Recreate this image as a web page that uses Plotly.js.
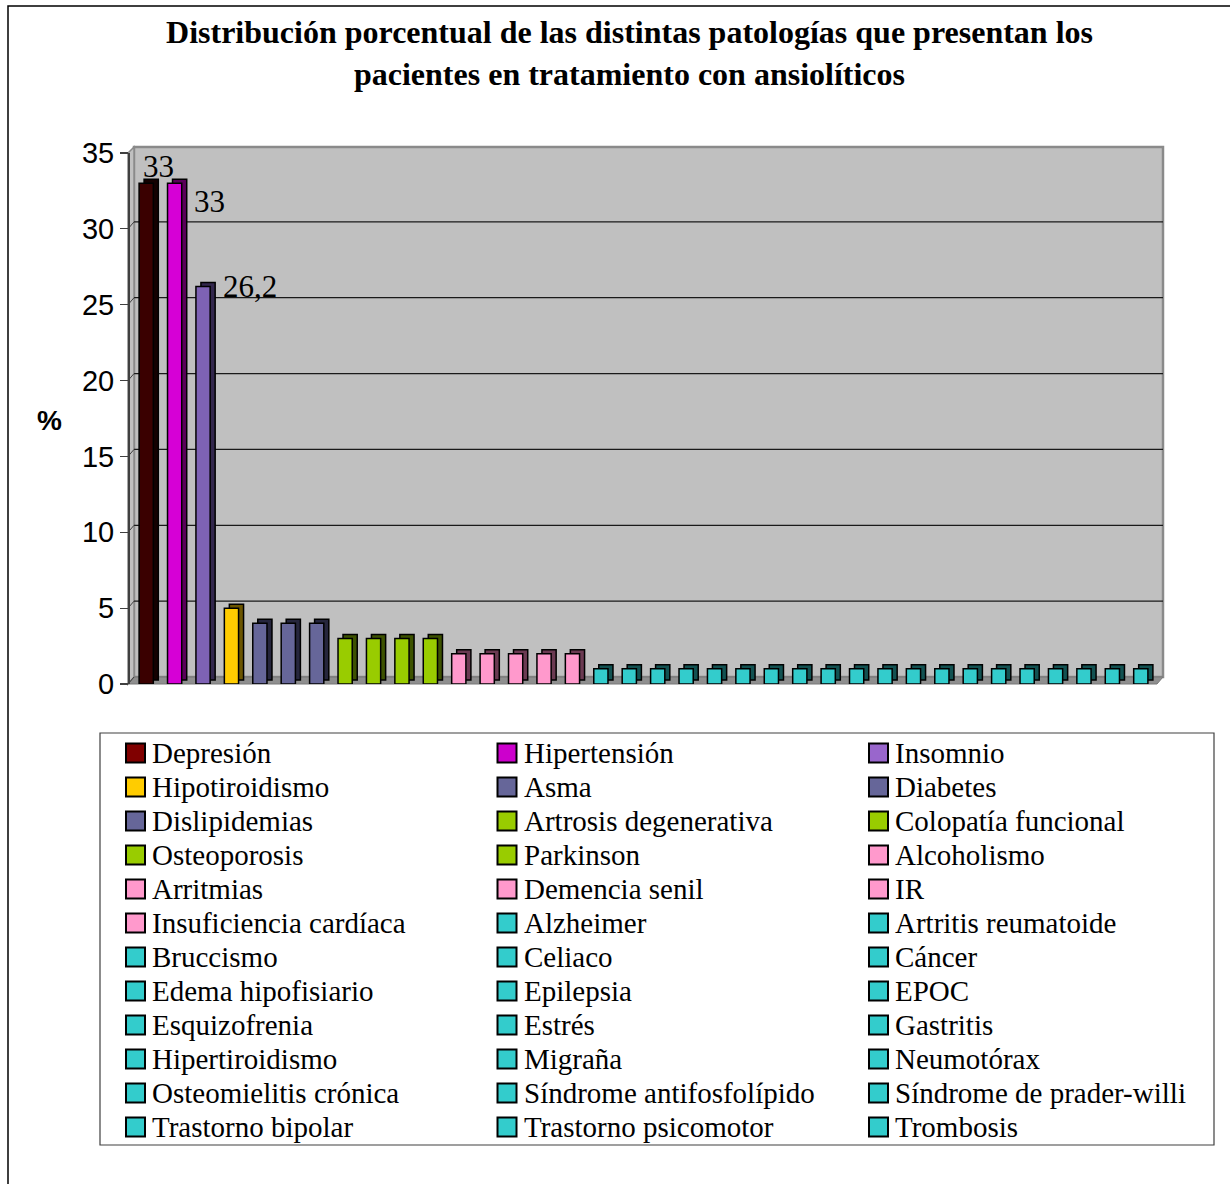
<!DOCTYPE html>
<html>
<head>
<meta charset="utf-8">
<script src="https://cdn.plot.ly/plotly-3.0.1.min.js"></script>
<style>
  html, body { margin: 0; padding: 0; background: #ffffff; }
  #chart { width: 1230px; height: 1184px; }
</style>
</head>
<body>
<div id="chart"></div>
<script>
// Patologías de los pacientes en tratamiento con ansiolíticos (%)
const categories = [
  'Depresión', 'Hipertensión', 'Insomnio',
  'Hipotiroidismo', 'Asma', 'Diabetes',
  'Dislipidemias', 'Artrosis degenerativa', 'Colopatía funcional',
  'Osteoporosis', 'Parkinson', 'Alcoholismo',
  'Arritmias', 'Demencia senil', 'IR',
  'Insuficiencia cardíaca', 'Alzheimer', 'Artritis reumatoide',
  'Bruccismo', 'Celiaco', 'Cáncer',
  'Edema hipofisiario', 'Epilepsia', 'EPOC',
  'Esquizofrenia', 'Estrés', 'Gastritis',
  'Hipertiroidismo', 'Migraña', 'Neumotórax',
  'Osteomielitis crónica', 'Síndrome antifosfolípido', 'Síndrome de prader-willi',
  'Trastorno bipolar', 'Trastorno psicomotor', 'Trombosis'
];

const values = [
  33, 33, 26.2,
  5, 4, 4,
  4, 3, 3,
  3, 3, 2,
  2, 2, 2,
  2, 1, 1,
  1, 1, 1,
  1, 1, 1,
  1, 1, 1,
  1, 1, 1,
  1, 1, 1,
  1, 1, 1
];

// Categories whose value is printed next to the column
const labelledCategories = ['Depresión', 'Hipertensión', 'Insomnio'];

const yTicks = [0, 5, 10, 15, 20, 25, 30, 35];

// Colour group of every category
const colorGroup = [
  'dep', 'hta', 'ins',
  'tir', 'azul', 'azul',
  'azul', 'verde', 'verde',
  'verde', 'verde', 'rosa',
  'rosa', 'rosa', 'rosa',
  'rosa', 'cian', 'cian',
  'cian', 'cian', 'cian',
  'cian', 'cian', 'cian',
  'cian', 'cian', 'cian',
  'cian', 'cian', 'cian',
  'cian', 'cian', 'cian',
  'cian', 'cian', 'cian'
];

const palette = {
  dep:   { face: '#3a0000', side: '#140000', key: '#800000' },
  hta:   { face: '#d600d6', side: '#5a005a', key: '#cc00cc' },
  ins:   { face: '#7e62b4', side: '#33274d', key: '#9966cc' },
  tir:   { face: '#ffcc00', side: '#6b5500', key: '#ffcc00' },
  azul:  { face: '#666699', side: '#26263d', key: '#666699' },
  verde: { face: '#99cc00', side: '#3d5200', key: '#99cc00' },
  rosa:  { face: '#ff99cc', side: '#6b3a52', key: '#ff99cc' },
  cian:  { face: '#33cccc', side: '#125252', key: '#33cccc' }
};

// ---- page geometry (pixels) ----
const W = 1230, H = 1184;
const plotL = 128, plotR = 1163, plotT = 147, plotB = 684;
const pw = plotR - plotL, ph = plotB - plotT;
const X = px => (px - plotL) / pw;       // pixel -> paper x
const Y = py => (plotB - py) / ph;       // pixel -> paper y

const wallDepth = { x: 6, y: 7 };        // back wall offset of the 3D frame
const barDepth = { x: 5, y: 4 };         // visible side / top of each column
const axisLeft = 132, axisRight = 1155, valueTop = 153;

const catPx = (axisRight - axisLeft) / categories.length;
const unitPx = (plotB - valueTop) / (yTicks[yTicks.length - 1] - yTicks[0]);
const barWidth = 0.5;

const faceColors = colorGroup.map(g => palette[g].face);
const sideColors = colorGroup.map(g => palette[g].side);

// Depth of each column: same values, shifted back and up
const sideTrace = {
  type: 'bar',
  x: categories,
  y: values,
  base: values.map(() => barDepth.y / unitPx),
  width: barWidth,
  offset: -barWidth / 2 + barDepth.x / catPx,
  marker: { color: sideColors, line: { color: '#000000', width: 1.5 } },
  hoverinfo: 'skip',
  showlegend: false
};

const faceTrace = {
  type: 'bar',
  x: categories,
  y: values,
  width: barWidth,
  offset: -barWidth / 2,
  marker: { color: faceColors, line: { color: '#000000', width: 1.5 } },
  hovertemplate: '%{x}: %{y}<extra></extra>',
  showlegend: false
};

const shapes = [];

// Outer chart frame
shapes.push({ type: 'rect', xref: 'paper', yref: 'paper', layer: 'below',
  x0: X(8), x1: X(1260), y0: Y(6), y1: Y(1260),
  line: { color: '#000000', width: 1.5 }, fillcolor: 'rgba(0,0,0,0)' });

// Back wall
shapes.push({ type: 'rect', xref: 'paper', yref: 'paper', layer: 'below',
  x0: X(plotL + wallDepth.x), x1: X(plotR),
  y0: Y(plotB - wallDepth.y), y1: Y(plotT),
  fillcolor: '#c0c0c0', line: { color: '#8a8a8a', width: 2.5 } });

// Left side wall
shapes.push({ type: 'path', xref: 'paper', yref: 'paper', layer: 'below',
  path: `M ${X(plotL)},${Y(valueTop)} L ${X(plotL + wallDepth.x)},${Y(plotT)} ` +
        `L ${X(plotL + wallDepth.x)},${Y(plotB - wallDepth.y)} L ${X(plotL)},${Y(plotB)} Z`,
  fillcolor: '#c0c0c0', line: { color: '#8a8a8a', width: 1.5 } });

// Floor
shapes.push({ type: 'path', xref: 'paper', yref: 'paper', layer: 'below',
  path: `M ${X(plotL)},${Y(plotB)} L ${X(plotL + wallDepth.x)},${Y(plotB - wallDepth.y)} ` +
        `L ${X(plotR)},${Y(plotB - wallDepth.y)} L ${X(plotR - wallDepth.x)},${Y(plotB)} Z`,
  fillcolor: '#8f8f8f', line: { color: '#777777', width: 1 } });

// Gridlines on the back wall and their links to the axis ticks
yTicks.slice(1, -1).forEach(v => {
  shapes.push({ type: 'line', xref: 'paper', yref: 'y', layer: 'below',
    x0: X(plotL + wallDepth.x), x1: X(plotR),
    ysizemode: 'pixel', yanchor: v, y0: wallDepth.y, y1: wallDepth.y,
    line: { color: '#1a1a1a', width: 1.2 } });
});
yTicks.slice(0, -1).forEach(v => {
  shapes.push({ type: 'line', xref: 'paper', yref: 'y', layer: 'below',
    x0: X(plotL), x1: X(plotL + wallDepth.x),
    ysizemode: 'pixel', yanchor: v, y0: 0, y1: wallDepth.y,
    line: { color: '#404040', width: 1 } });
});

const annotations = [];

// Value labels
const labelShift = { 'Depresión': [12, 17], 'Hipertensión': [35, -18], 'Insomnio': [47, 0] };
labelledCategories.forEach(c => {
  const i = categories.indexOf(c);
  annotations.push({
    xref: 'x', yref: 'y', x: c, y: values[i],
    text: String(values[i]).replace('.', ','),
    showarrow: false, xanchor: 'center', yanchor: 'middle',
    xshift: labelShift[c][0], yshift: labelShift[c][1],
    font: { family: 'Liberation Serif, Times New Roman, serif', size: 31, color: '#000000' }
  });
});

// Axis caption
annotations.push({
  xref: 'paper', yref: 'paper', x: X(49), y: Y(420),
  text: '<b>%</b>', showarrow: false, xanchor: 'center', yanchor: 'middle',
  font: { family: 'Liberation Sans, Arial, sans-serif', size: 28, color: '#000000' }
});

// Legend box: three columns, filled row by row
const legend = { left: 100, right: 1214, top: 733, bottom: 1145,
                 keyX: 126, textX: 150, colStep: 371.5, rowY: 753, rowStep: 34, key: 19 };
shapes.push({ type: 'rect', xref: 'paper', yref: 'paper', layer: 'above',
  x0: X(legend.left), x1: X(legend.right), y0: Y(legend.bottom), y1: Y(legend.top),
  fillcolor: '#ffffff', line: { color: '#404040', width: 1.2 } });

categories.forEach((c, i) => {
  const col = i % 3, row = Math.floor(i / 3);
  const cy = legend.rowY + row * legend.rowStep;
  const kx = legend.keyX + col * legend.colStep;
  shapes.push({ type: 'rect', xref: 'paper', yref: 'paper', layer: 'above',
    x0: X(kx), x1: X(kx + legend.key),
    y0: Y(cy + legend.key / 2), y1: Y(cy - legend.key / 2),
    fillcolor: palette[colorGroup[i]].key, line: { color: '#000000', width: 2 } });
  annotations.push({
    xref: 'paper', yref: 'paper',
    x: X(legend.textX + col * legend.colStep), y: Y(cy),
    text: c, showarrow: false, xanchor: 'left', yanchor: 'middle',
    font: { family: 'Liberation Serif, Times New Roman, serif', size: 29, color: '#000000' }
  });
});

const layout = {
  width: W, height: H,
  margin: { l: plotL, r: W - plotR, t: plotT, b: H - plotB, pad: 0 },
  paper_bgcolor: '#ffffff',
  plot_bgcolor: 'rgba(0,0,0,0)',
  title: {
    text: '<b>Distribución porcentual de las distintas patologías que presentan los<br>pacientes en tratamiento con ansiolíticos</b>',
    font: { family: 'Liberation Serif, Times New Roman, serif', size: 32, color: '#000000' },
    xref: 'paper', x: X(629.5), xanchor: 'center',
    yref: 'container', y: 1 - 43 / H, yanchor: 'middle'
  },
  barmode: 'overlay',
  showlegend: false,
  xaxis: {
    type: 'category',
    domain: [X(axisLeft), X(axisRight)],
    range: [-0.5, categories.length - 0.5],
    showticklabels: false, showgrid: false, zeroline: false, showline: false,
    ticks: '', fixedrange: true
  },
  yaxis: {
    domain: [0, Y(valueTop)],
    range: [yTicks[0], yTicks[yTicks.length - 1]],
    tickvals: yTicks,
    ticktext: yTicks.map(String),
    anchor: 'free', position: 0,
    showgrid: false, zeroline: false,
    showline: true, linecolor: '#404040', linewidth: 1.5,
    ticks: 'outside', ticklen: 8, tickcolor: '#404040', tickwidth: 1.2,
    tickfont: { family: 'Liberation Sans, Arial, sans-serif', size: 29, color: '#000000' },
    fixedrange: true
  },
  shapes: shapes,
  annotations: annotations
};

Plotly.newPlot('chart', [sideTrace, faceTrace], layout, { staticPlot: true, displayModeBar: false });
</script>
</body>
</html>
